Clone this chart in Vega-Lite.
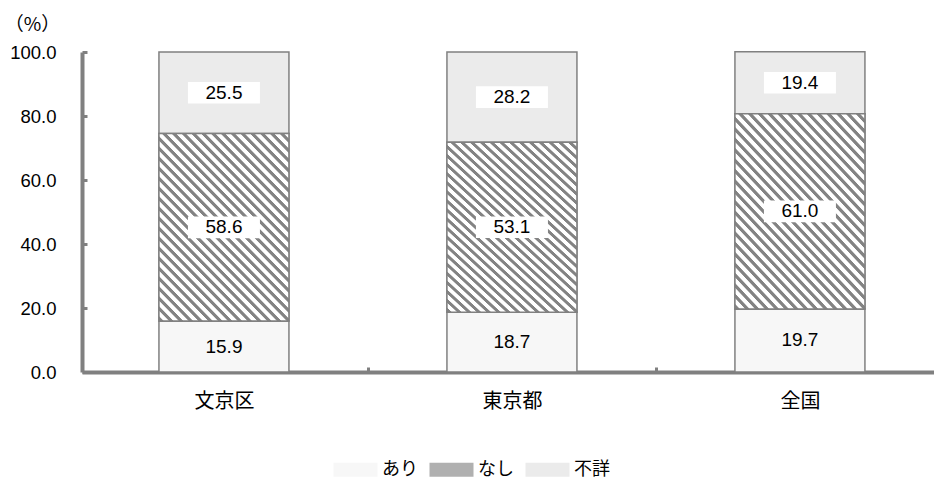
{
  "$schema": "https://vega.github.io/schema/vega-lite/v6.json",
  "autosize": "none",
  "width": 852,
  "height": 320,
  "padding": {"left": 82, "top": 52, "right": 0, "bottom": 109},
  "background": "#ffffff",
  "config": {"view": {"stroke": null}},
  "data": {
    "values": [
      {"地域": "文京区", "区分": "あり", "順": 1, "値": 15.9},
      {"地域": "文京区", "区分": "なし", "順": 2, "値": 58.6},
      {"地域": "文京区", "区分": "不詳", "順": 3, "値": 25.5},
      {"地域": "東京都", "区分": "あり", "順": 1, "値": 18.7},
      {"地域": "東京都", "区分": "なし", "順": 2, "値": 53.1},
      {"地域": "東京都", "区分": "不詳", "順": 3, "値": 28.2},
      {"地域": "全国", "区分": "あり", "順": 1, "値": 19.7},
      {"地域": "全国", "区分": "なし", "順": 2, "値": 61.0},
      {"地域": "全国", "区分": "不詳", "順": 3, "値": 19.4}
    ]
  },
  "transform": [
    {"stack": "値", "groupby": ["地域"], "sort": [{"field": "順", "order": "ascending"}], "as": ["下端", "上端"]},
    {"calculate": "(datum.下端 + datum.上端) / 2", "as": "中央"}
  ],
  "encoding": {
    "x": {
      "field": "地域",
      "type": "nominal",
      "sort": ["文京区", "東京都", "全国"],
      "title": null,
      "scale": {"type": "band", "paddingInner": 0.5486, "paddingOuter": 0.2535, "align": 0.527},
      "axis": {
        "labelAngle": 0,
        "labelFont": "Noto Sans CJK JP",
        "labelFontSize": 20,
        "labelColor": "#000000",
        "labelBaseline": "middle",
        "labelPadding": 34,
        "labelOffset": -144,
        "domainColor": "#808080",
        "domainWidth": 4,
        "tickColor": "#808080",
        "tickWidth": 3,
        "tickSize": -5,
        "tickOffset": 144,
        "grid": false
      }
    }
  },
  "layer": [
    {
      "mark": {"type": "bar", "stroke": "#808080", "strokeWidth": 1.5},
      "encoding": {
        "y": {
          "field": "下端",
          "type": "quantitative",
          "scale": {"domain": [0, 100], "nice": false, "zero": true},
          "axis": {
            "values": [0, 20, 40, 60, 80, 100],
            "format": ".1f",
            "grid": false,
            "labelFont": "Liberation Sans",
            "labelFontSize": 18.5,
            "labelColor": "#000000",
            "labelPadding": 31,
            "domainColor": "#808080",
            "domainWidth": 4,
            "tickColor": "#808080",
            "tickWidth": 3,
            "tickSize": -5,
            "title": "（%）",
            "titleAngle": 0,
            "titleX": -50,
            "titleY": -28,
            "titleAlign": "center",
            "titleBaseline": "middle",
            "titleFont": "Noto Sans CJK JP",
            "titleFontSize": 19,
            "titleFontWeight": "normal",
            "titleColor": "#000000"
          }
        },
        "y2": {"field": "上端"},
        "fill": {
          "field": "区分",
          "type": "nominal",
          "scale": {"domain": ["あり", "なし", "不詳"], "range": ["#f7f7f7", "#b0b0b0", "#ebebeb"]},
          "legend": {
            "title": null,
            "orient": "none",
            "direction": "horizontal",
            "legendX": 251,
            "legendY": 395,
            "symbolType": "M-1,-0.32H1V0.32H-1Z",
            "symbolSize": 1936,
            "symbolStrokeColor": "#808080",
            "symbolStrokeWidth": 1,
            "labelFont": "Noto Sans CJK JP",
            "labelFontSize": 18,
            "labelColor": "#000000",
            "labelOffset": 4,
            "columnPadding": 9,
            "encode": {
              "symbols": {
                "update": {
                  "fill": [
                    {"test": "datum.value === 'なし'", "value": {"gradient": "linear", "x1": 0, "y1": 1, "x2": 1.197, "y2": 0.619, "stops": [
                      {"offset": 0, "color": "#ffffff"}, {"offset": 0.0167, "color": "#838383"}, {"offset": 0.075, "color": "#838383"}, {"offset": 0.0917, "color": "#ffffff"},
                      {"offset": 0.1667, "color": "#ffffff"}, {"offset": 0.1833, "color": "#838383"}, {"offset": 0.2417, "color": "#838383"}, {"offset": 0.2583, "color": "#ffffff"},
                      {"offset": 0.3333, "color": "#ffffff"}, {"offset": 0.35, "color": "#838383"}, {"offset": 0.4083, "color": "#838383"}, {"offset": 0.425, "color": "#ffffff"},
                      {"offset": 0.5, "color": "#ffffff"}, {"offset": 0.5167, "color": "#838383"}, {"offset": 0.575, "color": "#838383"}, {"offset": 0.5917, "color": "#ffffff"},
                      {"offset": 0.6667, "color": "#ffffff"}, {"offset": 0.6833, "color": "#838383"}, {"offset": 0.7417, "color": "#838383"}, {"offset": 0.7583, "color": "#ffffff"},
                      {"offset": 0.8333, "color": "#ffffff"}, {"offset": 0.85, "color": "#838383"}, {"offset": 0.9083, "color": "#838383"}, {"offset": 0.925, "color": "#ffffff"},
                      {"offset": 1, "color": "#ffffff"}
                    ]}},
                    {"scale": "fill", "field": "value"}
                  ],
                  "fillOpacity": {"value": 1},
                  "opacity": {"value": 1}
                }
              }
            }
          }
        }
      }
    },
    {
      "transform": [{"filter": "datum.区分 === 'なし'"}],
      "mark": {"type": "bar", "stroke": "#808080", "strokeWidth": 1.5,
        "fill": {"gradient": "linear", "x1": 0, "y1": 1, "x2": 0.804, "y2": -0.138, "stops": [
          {"offset": 0, "color": "#ffffff"}, {"offset": 0.0031, "color": "#838383"}, {"offset": 0.0141, "color": "#838383"}, {"offset": 0.0172, "color": "#ffffff"},
          {"offset": 0.0313, "color": "#ffffff"}, {"offset": 0.0344, "color": "#838383"}, {"offset": 0.0453, "color": "#838383"}, {"offset": 0.0484, "color": "#ffffff"},
          {"offset": 0.0625, "color": "#ffffff"}, {"offset": 0.0656, "color": "#838383"}, {"offset": 0.0766, "color": "#838383"}, {"offset": 0.0797, "color": "#ffffff"},
          {"offset": 0.0938, "color": "#ffffff"}, {"offset": 0.0969, "color": "#838383"}, {"offset": 0.1078, "color": "#838383"}, {"offset": 0.1109, "color": "#ffffff"},
          {"offset": 0.125, "color": "#ffffff"}, {"offset": 0.1281, "color": "#838383"}, {"offset": 0.1391, "color": "#838383"}, {"offset": 0.1422, "color": "#ffffff"},
          {"offset": 0.1563, "color": "#ffffff"}, {"offset": 0.1594, "color": "#838383"}, {"offset": 0.1703, "color": "#838383"}, {"offset": 0.1734, "color": "#ffffff"},
          {"offset": 0.1875, "color": "#ffffff"}, {"offset": 0.1906, "color": "#838383"}, {"offset": 0.2016, "color": "#838383"}, {"offset": 0.2047, "color": "#ffffff"},
          {"offset": 0.2188, "color": "#ffffff"}, {"offset": 0.2219, "color": "#838383"}, {"offset": 0.2328, "color": "#838383"}, {"offset": 0.2359, "color": "#ffffff"},
          {"offset": 0.25, "color": "#ffffff"}, {"offset": 0.2531, "color": "#838383"}, {"offset": 0.2641, "color": "#838383"}, {"offset": 0.2672, "color": "#ffffff"},
          {"offset": 0.2813, "color": "#ffffff"}, {"offset": 0.2844, "color": "#838383"}, {"offset": 0.2953, "color": "#838383"}, {"offset": 0.2984, "color": "#ffffff"},
          {"offset": 0.3125, "color": "#ffffff"}, {"offset": 0.3156, "color": "#838383"}, {"offset": 0.3266, "color": "#838383"}, {"offset": 0.3297, "color": "#ffffff"},
          {"offset": 0.3438, "color": "#ffffff"}, {"offset": 0.3469, "color": "#838383"}, {"offset": 0.3578, "color": "#838383"}, {"offset": 0.3609, "color": "#ffffff"},
          {"offset": 0.375, "color": "#ffffff"}, {"offset": 0.3781, "color": "#838383"}, {"offset": 0.3891, "color": "#838383"}, {"offset": 0.3922, "color": "#ffffff"},
          {"offset": 0.4063, "color": "#ffffff"}, {"offset": 0.4094, "color": "#838383"}, {"offset": 0.4203, "color": "#838383"}, {"offset": 0.4234, "color": "#ffffff"},
          {"offset": 0.4375, "color": "#ffffff"}, {"offset": 0.4406, "color": "#838383"}, {"offset": 0.4516, "color": "#838383"}, {"offset": 0.4547, "color": "#ffffff"},
          {"offset": 0.4688, "color": "#ffffff"}, {"offset": 0.4719, "color": "#838383"}, {"offset": 0.4828, "color": "#838383"}, {"offset": 0.4859, "color": "#ffffff"},
          {"offset": 0.5, "color": "#ffffff"}, {"offset": 0.5031, "color": "#838383"}, {"offset": 0.5141, "color": "#838383"}, {"offset": 0.5172, "color": "#ffffff"},
          {"offset": 0.5313, "color": "#ffffff"}, {"offset": 0.5344, "color": "#838383"}, {"offset": 0.5453, "color": "#838383"}, {"offset": 0.5484, "color": "#ffffff"},
          {"offset": 0.5625, "color": "#ffffff"}, {"offset": 0.5656, "color": "#838383"}, {"offset": 0.5766, "color": "#838383"}, {"offset": 0.5797, "color": "#ffffff"},
          {"offset": 0.5938, "color": "#ffffff"}, {"offset": 0.5969, "color": "#838383"}, {"offset": 0.6078, "color": "#838383"}, {"offset": 0.6109, "color": "#ffffff"},
          {"offset": 0.625, "color": "#ffffff"}, {"offset": 0.6281, "color": "#838383"}, {"offset": 0.6391, "color": "#838383"}, {"offset": 0.6422, "color": "#ffffff"},
          {"offset": 0.6563, "color": "#ffffff"}, {"offset": 0.6594, "color": "#838383"}, {"offset": 0.6703, "color": "#838383"}, {"offset": 0.6734, "color": "#ffffff"},
          {"offset": 0.6875, "color": "#ffffff"}, {"offset": 0.6906, "color": "#838383"}, {"offset": 0.7016, "color": "#838383"}, {"offset": 0.7047, "color": "#ffffff"},
          {"offset": 0.7188, "color": "#ffffff"}, {"offset": 0.7219, "color": "#838383"}, {"offset": 0.7328, "color": "#838383"}, {"offset": 0.7359, "color": "#ffffff"},
          {"offset": 0.75, "color": "#ffffff"}, {"offset": 0.7531, "color": "#838383"}, {"offset": 0.7641, "color": "#838383"}, {"offset": 0.7672, "color": "#ffffff"},
          {"offset": 0.7813, "color": "#ffffff"}, {"offset": 0.7844, "color": "#838383"}, {"offset": 0.7953, "color": "#838383"}, {"offset": 0.7984, "color": "#ffffff"},
          {"offset": 0.8125, "color": "#ffffff"}, {"offset": 0.8156, "color": "#838383"}, {"offset": 0.8266, "color": "#838383"}, {"offset": 0.8297, "color": "#ffffff"},
          {"offset": 0.8438, "color": "#ffffff"}, {"offset": 0.8469, "color": "#838383"}, {"offset": 0.8578, "color": "#838383"}, {"offset": 0.8609, "color": "#ffffff"},
          {"offset": 0.875, "color": "#ffffff"}, {"offset": 0.8781, "color": "#838383"}, {"offset": 0.8891, "color": "#838383"}, {"offset": 0.8922, "color": "#ffffff"},
          {"offset": 0.9063, "color": "#ffffff"}, {"offset": 0.9094, "color": "#838383"}, {"offset": 0.9203, "color": "#838383"}, {"offset": 0.9234, "color": "#ffffff"},
          {"offset": 0.9375, "color": "#ffffff"}, {"offset": 0.9406, "color": "#838383"}, {"offset": 0.9516, "color": "#838383"}, {"offset": 0.9547, "color": "#ffffff"},
          {"offset": 0.9688, "color": "#ffffff"}, {"offset": 0.9719, "color": "#838383"}, {"offset": 0.9828, "color": "#838383"}, {"offset": 0.9859, "color": "#ffffff"},
          {"offset": 1, "color": "#ffffff"}
        ]}
      },
      "encoding": {
        "y": {"field": "下端", "type": "quantitative", "axis": {"title": "（%）"}},
        "y2": {"field": "上端"}
      }
    },
    {
      "transform": [{"filter": "datum.区分 !== 'あり'"}],
      "mark": {"type": "point", "shape": "M-1,-0.3H1V0.3H-1Z", "size": 5184, "filled": true, "fill": "#ffffff", "opacity": 1, "strokeWidth": 0},
      "encoding": {
        "y": {"field": "中央", "type": "quantitative", "axis": {"title": "（%）"}}
      }
    },
    {
      "mark": {"type": "text", "font": "Liberation Sans", "fontSize": 19, "color": "#000000", "align": "center", "baseline": "middle"},
      "encoding": {
        "y": {"field": "中央", "type": "quantitative", "axis": {"title": "（%）"}},
        "text": {"field": "値", "type": "quantitative", "format": ".1f"}
      }
    }
  ]
}
